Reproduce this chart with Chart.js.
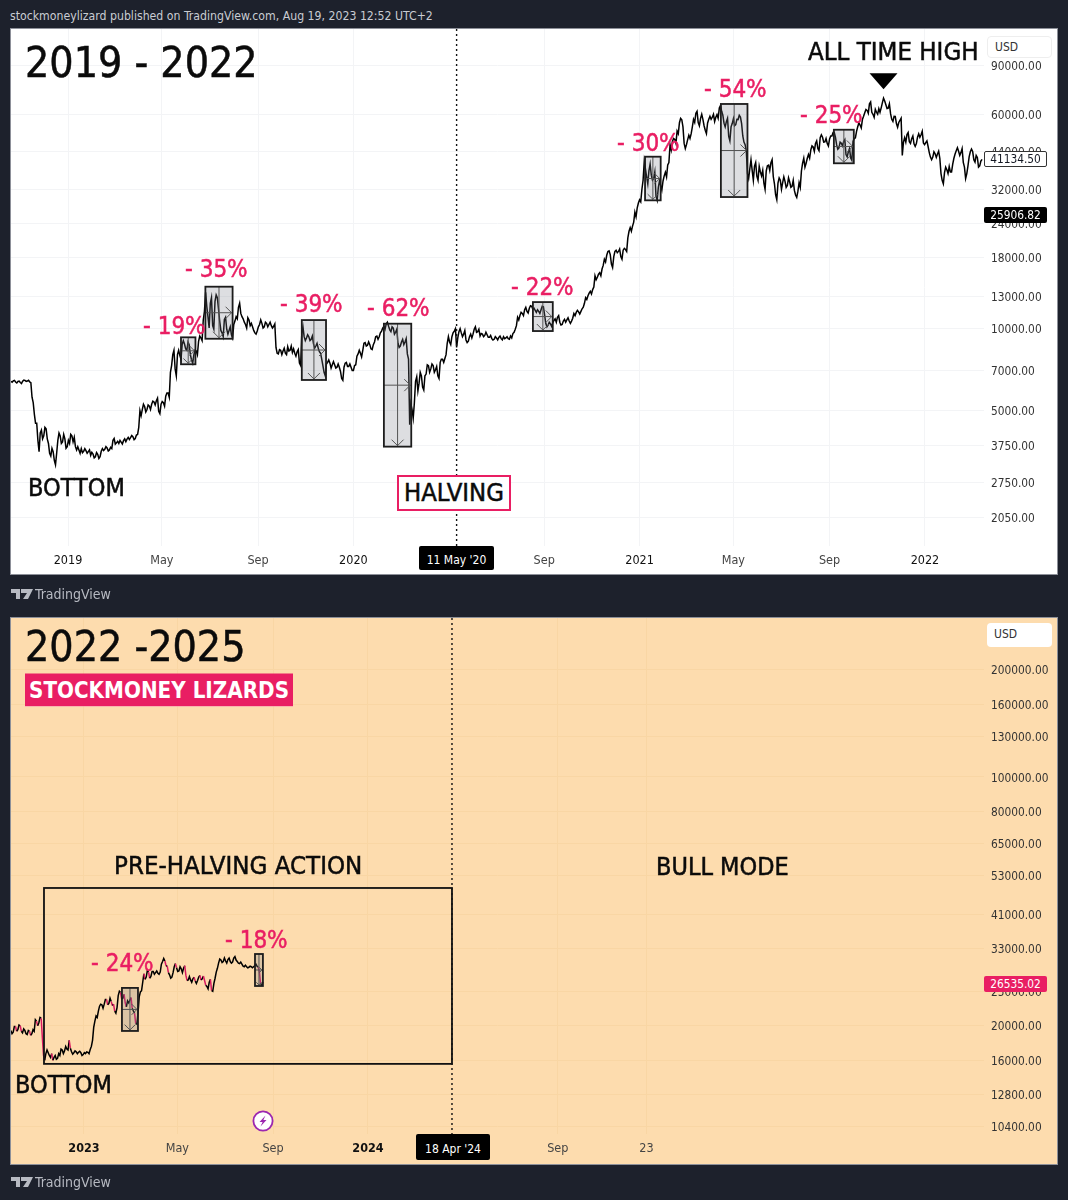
<!DOCTYPE html>
<html><head><meta charset="utf-8">
<script src="https://cdn.jsdelivr.net/npm/chart.js@4"></script>
<style>
html,body{margin:0;padding:0;background:#1d212c;width:1068px;height:1200px;overflow:hidden;font-family:"DejaVu Sans Condensed","DejaVu Sans",sans-serif}
.pane{position:absolute;left:11px;width:1046px;box-shadow:0 0 0 1px #8d9099}
.pane canvas{display:block}
.t{position:absolute;white-space:nowrap;line-height:1;transform:translateY(-50%)}
.k{color:#0b0b0b;-webkit-text-stroke:.5px #0b0b0b}
.p{color:#e91e63;-webkit-text-stroke:.5px #e91e63;font-size:24px}
.tag{position:absolute;font-size:11.8px;text-align:center;line-height:16px;height:16px;width:63px;left:984px;border-radius:2px}
.usd{position:absolute;left:987px;width:65px;background:#fff;border-radius:4px;font-size:12px;color:#333;box-sizing:border-box;padding-left:7px}
.tv{position:absolute;left:35px;color:#b7bac2;font-size:14px;transform:translateY(-50%);line-height:1}
</style></head>
<body>
<div class="t" style="left:10px;top:16px;font-size:12.2px;color:#c9ccd3">stockmoneylizard published on TradingView.com, Aug 19, 2023 12:52 UTC+2</div>
<div class="pane" style="top:29px;height:545px;background:#fff"><canvas id="upper" width="1046" height="545" style="width:1046px;height:545px"></canvas></div>
<div class="pane" style="top:618px;height:546px;background:#fddcae"><canvas id="lower" width="1046" height="546" style="width:1046px;height:546px"></canvas></div>

<div class="t k" style="left:25px;top:63px;font-size:42.5px">2019 - 2022</div>
<div class="t k" style="left:808px;top:52px;font-size:25.6px">ALL TIME HIGH</div>
<div class="t k" style="left:28px;top:487px;font-size:25px">BOTTOM</div>
<div style="position:absolute;left:397px;top:475px;width:110px;height:32px;border:2px solid #e91e63;background:#fff"></div>
<div class="t k" style="left:404px;top:493px;font-size:25.4px">HALVING</div>
<div class="t p" style="left:143px;top:326px">- 19%</div>
<div class="t p" style="left:185px;top:269px">- 35%</div>
<div class="t p" style="left:280px;top:304px">- 39%</div>
<div class="t p" style="left:367px;top:308px">- 62%</div>
<div class="t p" style="left:511px;top:287px">- 22%</div>
<div class="t p" style="left:617px;top:143px">- 30%</div>
<div class="t p" style="left:704px;top:89px">- 54%</div>
<div class="t p" style="left:800px;top:115px">- 25%</div>
<div class="usd" style="top:36px;height:22px;line-height:20px;border:1px solid #eee">USD</div>
<div class="tag" style="top:151px;background:#fff;color:#131722;border:1px solid #333;box-sizing:border-box;line-height:14px">41134.50</div>
<div class="tag" style="top:207px;background:#000;color:#fff">25906.82</div>
<div class="tag" style="left:419px;top:546px;width:75px;height:24px;line-height:28px;background:#000;color:#fff;font-size:12px">11 May '20</div>

<div class="t k" style="left:25px;top:647px;font-size:42.5px">2022 -2025</div>
<div class="t" style="left:25px;top:690px;width:264px;padding:7px 0 7px 4px;height:19px;line-height:19px;transform:translateY(-50%);background:#e91e63;color:#fff;font-size:22.2px;font-weight:bold">STOCKMONEY LIZARDS</div>
<div class="t k" style="left:114px;top:866px;font-size:25.6px">PRE-HALVING ACTION</div>
<div class="t k" style="left:656px;top:866px;font-size:25px">BULL MODE</div>
<div class="t k" style="left:15px;top:1084px;font-size:25px">BOTTOM</div>
<div class="t p" style="left:91px;top:963px">- 24%</div>
<div class="t p" style="left:225px;top:940px">- 18%</div>
<div class="usd" style="top:623px;height:24px;line-height:23px">USD</div>
<div class="tag" style="top:976px;background:#e91e63;color:#fff">26535.02</div>
<div class="tag" style="left:416px;top:1134px;width:74px;height:26px;line-height:30px;background:#000;color:#fff;font-size:12px">18 Apr '24</div>
<svg style="position:absolute;left:252px;top:1110px" width="22" height="22" viewBox="0 0 22 22"><circle cx="11" cy="11" r="9.6" fill="#fff" stroke="#9c27b0" stroke-width="1.8"/><path d="M13.5 5.5 L7.5 12 L10.6 12 L8.5 16.5 L14.5 10 L11.4 10 Z" fill="#9c27b0"/></svg>

<svg style="position:absolute;left:11px;top:588px" width="22" height="12" viewBox="0 0 22 12"><path d="M0 1H9V11H5V5H0Z M10 1H22L17 11H12L16 5H10Z" fill="#b7bac2"/></svg>
<div class="tv" style="top:594px">TradingView</div>
<svg style="position:absolute;left:11px;top:1176px" width="22" height="12" viewBox="0 0 22 12"><path d="M0 1H9V11H5V5H0Z M10 1H22L17 11H12L16 5H10Z" fill="#b7bac2"/></svg>
<div class="tv" style="top:1182px">TradingView</div>

<script>
// ---------- upper chart: BTC/USD closes every 3 days from day -73 (day 0 = 1 Jan 2019) ----------
const upperStartDay = -73, stepDays = 3;
const upper2018 = [
6400,6420,6360,6390,6330,6400,6440,6410,6370,5600,
4850,4500,3550,4250,4050,4300,3800,3420,3550,3180,
3900,4050,3850,3950,3700,3800,4050,4000,3600,3600];
const upper2019 = [
3640,3560,3580,3550,3440,3480,3400,3470,3400,3640,
3620,3660,3600,3640,3960,3820,3800,3840,3890,3860,
4000,3990,4020,3960,4100,5000,5050,5180,5050,5200,
5280,5380,5430,4980,5280,5350,5650,5800,6900,8000,
7100,8000,7950,8700,8750,8300,8700,7650,8000,8250,
8950,9200,10700,13500,11000,12300,10200,12500,12900,10600,
9600,10750,9900,9800,9450,10300,11000,11900,11300,10800,
10300,10900,10200,10100,9600,9750,10300,10400,10100,10400,
10300,10200,10150,8500,8050,8300,8250,8100,8550,8300,
8150,8100,8200,7450,9550,9300,9200,9300,9100,8750,
8600,8450,8100,7300,6700,7500,7450,7350,7350,7200,
7200,6550,7200,7500,7250,7200,7000,7350,8050,8100];
const upper2020 = [
8300,8850,8650,8700,8350,8900,9350,9300,9750,10150,
10350,10150,9700,10000,9650,8800,8600,9100,8900,8050,
4450,5050,5350,6650,6300,6700,5950,6800,7300,7100,
7300,7050,6700,7500,7700,7750,8800,8900,9300,9750,
8500,9700,9600,9500,9050,8950,9500,9500,10100,9700,
9350,9500,9400,9450,9250,9150,9100,9200,9250,9150,
9300,9200,9150,9350,9550,9900,10950,11100,11300,11650,
11500,11800,12000,11800,11400,11500,11650,11950,10400,10250,
10350,10450,10800,10950,10500,10300,10750,10700,10600,10600,
11300,11400,11450,11500,11900,12900,13100,13600,13800,15500,
15300,15900,16400,17800,18400,19100,17100,18200,19200,19000,
18200,19200,19300,21300,23200,23500,26400,27400,29300,32000];
const upper2021 = [
40500,35500,37400,36000,35000,30200,32500,33000,34300,36900,
39200,46500,47800,48600,52100,55900,57300,47000,46500,50300,
51000,57500,60500,56000,58000,57500,52500,55800,59000,58500,
56500,59800,63200,61500,55700,56400,49800,54000,57800,55000,
57400,58600,50000,46500,36500,38000,37500,38800,35700,38800,
35800,33700,37300,39200,40000,35600,30500,33700,34500,33800,
34200,33000,34000,32800,31700,29900,33800,37300,41500,39800,
42800,44500,45600,47000,45000,49300,49500,47600,47000,48800,
50000,51500,46500,45300,47100,47700,42800,43800,41600,47800,
49200,54000,54800,57400,60800,62000,65500,61000,58500,61000,
62900,63300,68700,65000,63200,60300,56500,58900,53800,57000,
42500,49300,50600,47700,48900,46800,46900,50900,50500,47200];
const upper2022 = [
47300,45800,41900,41900,43100,43000,41500,34500,36800,37700,
38700,37000,41500,44200,44000,43500,40100,35000,38900,43800,
43900,40200,41800,38900,41134];
// intrabar swing read between two closes
const upperSwing2018 = [
6350,6450,6310,6410,6280,6460,6390,6450,6330,5350,
4500,3900,4150,3950,4350,3950,3500,3650,3300,3500,
4150,3800,4100,3650,3900,4100,3850,3700,3700,3500];
const upperSwing2019 = [
3520,3640,3500,3600,3530,3370,3520,3350,3560,3580,
3700,3570,3680,3900,3780,3870,3900,3780,3950,3940,
3930,4060,3920,4080,4350,4800,5280,4950,5250,5050,
5420,5250,5550,4880,5400,5200,5800,5600,7300,8300,
6700,8300,7700,9000,8400,8900,8000,7450,8300,8000,
9350,9000,11500,12000,10000,12900,9900,13200,11700,9800,
9300,10950,9500,10100,9200,10600,10800,12300,11000,10500,
10000,10700,10400,9800,9500,10100,10700,10000,10500,10100,
10500,10000,10350,8100,8350,8000,8450,8000,8250,8600,
8400,7900,8350,7300,10100,9000,9450,9000,9350,8450,
8800,8200,7700,6900,7400,7650,7150,7550,7150,7400,
6950,6450,7450,7250,7400,7000,7300,7900,8300,7850];
const upperSwing2020 = [
8800,8600,8900,8400,8700,9300,9100,9600,10000,9900,
10500,9850,10100,9500,9900,8500,8900,8700,9150,7700,
5300,4700,6400,5900,6900,6100,6700,7350,6900,7400,
6900,7250,6550,7700,7500,8000,9300,8700,9600,9950,
9200,9950,9300,9800,8850,9300,9200,9900,9650,9900,
9550,9300,9650,9250,9400,9050,9300,9050,9350,9050,
9150,9300,9100,9200,9650,10200,10700,11400,11100,11900,
11350,12050,11700,11600,11650,11300,12000,11200,10100,10500,
10150,10650,10500,11100,10250,10600,10500,10900,10400,10850,
11100,11600,11250,11750,12300,12700,13400,13300,14100,15000,
15700,15500,16900,17400,19000,18500,16600,19000,18800,19400,
17800,19500,19000,22500,22500,24300,25400,28500,28800,34500];
const upperSwing2021 = [
38000,33500,39500,34500,37000,29200,34300,31800,35800,35500,
40000,44500,49000,47000,51000,58000,54000,45000,48500,49000,
54000,56000,61500,54500,60000,54500,51000,57500,57500,60000,
58500,58000,64500,59500,54000,58000,48000,55500,54500,57500,
59500,55500,47500,44000,35000,41000,34500,40000,34500,37000,
37500,32000,39000,37500,41000,33500,29300,35200,32000,35500,
32500,35200,32500,34500,30500,31500,32500,39800,38500,41500,
41500,46000,44000,48000,44200,50500,47500,49000,46000,50000,
51500,49500,44800,47500,46000,48500,42000,45000,40800,49000,
52000,55800,53500,59000,62500,60500,66500,60000,62500,60000,
61000,66000,67000,63000,65500,57500,59000,55500,56000,58000,
47500,47500,51500,47000,50000,45800,49500,49500,52000,46500];
const upperSwing2022 = [
48000,43500,41000,43800,41800,44000,36500,33500,38500,36500,
37000,39500,43000,45300,42500,45000,38500,36500,42000,44800,
41000,42500,38500,40500];

// ---------- lower chart: closes every 3 days from day -94 (day 0 = 1 Jan 2023) ----------
const lowerStartDay = -94;
const lower2022 = [
19400,19200,19900,19500,20000,19100,19400,18900,19300,19000,
19300,20600,20400,21000,16500,16700,16800,16300,16000,16500,
16200,16500,17100,17000,17200,18200,16900,16800,16900,16850,
16800,16600];
const lower2023 = [
16700,16850,17150,18200,20600,21100,22700,22900,
23000,23700,23100,23400,23000,21700,24300,24800,23900,23200,
23500,23600,22400,21700,20200,24100,25100,28000,27400,28300,
27500,28400,28200,28100,28300,30300,30400,29400,27800,27400,
29300,29100,28500,28900,29000,27700,26900,26900,27100,26700,
26800,27700,27100,26800,25800,26500,25100,26300,28300,30000,
30600,30300,30400,30700,30300,30200,31300,30300,29900,29800,
29300,29300,29200,29300,29300,29800,29200,26200,26535];
const lowerSwing2022 = [
19000,19900,19300,20100,19300,19600,19000,19400,18800,19500,
20800,20000,21100,18500,16000,17100,16500,16700,16300,16100,
16700,17200,16700,17500,17100,17300,16650,17000,16700,16950,
16500,16800];
const lowerSwing2023 = [
16900,16700,17500,19800,21300,22000,23000,22400,
23700,22900,23900,22800,22000,22500,25000,23800,24500,22600,
23200,24000,22000,20300,21800,24900,26500,27000,28600,27200,
28400,27900,28500,27900,29800,30900,29500,28200,27200,28200,
29900,28400,29300,28200,29500,26800,27500,26500,27400,26300,
27400,26900,27600,26000,25400,27000,25000,27200,29000,30800,
30100,31000,30000,31000,30000,31000,30600,30000,30200,29400,
29600,29100,29400,29100,29500,29400,28300,26000];

// ---------- axes ----------
const upperPriceTicks = [90000,60000,44000,32000,24000,18000,13000,10000,7000,5000,3750,2750,2050];
const lowerPriceTicks = [200000,160000,130000,100000,80000,65000,53000,41000,33000,25000,20000,16000,12800,10400];
const upperDateTicks = [0,120,243,365,609,731,851,974,1096];
const upperDateLabels = ["2019","May","Sep","2020","Sep","2021","May","Sep","2022"];
const lowerDateTicks = [0,120,243,365,609,723];
const lowerDateLabels = ["2023","May","Sep","2024","Sep","23"];

// ---------- drawn tools, in data units (days, price) ----------
const upperDropBoxes = [
 [144.5,163,9250,7380],[175.7,210.5,14140,9140],[299,330,10690,6470],[404,439,10370,3700],
 [594.6,620,12430,9750],[738,758,42040,29160],[835,869,65400,29980],[979.5,1005,52700,39780]];
const lowerDropBoxes = [[48.8,69.4,25550,19340],[219.8,230,31820,25870]];
const lowerRangeBox = [-51.4,473,48770,15630];
const upperHalvingDay = 497, lowerHalvingDay = 473;
const athMarker = [1043,74000];

const FONT = '"DejaVu Sans Condensed","DejaVu Sans",sans-serif';

const tools = {
  id:'tools',
  afterDatasetsDraw(chart,args,o){
    const {ctx,chartArea:a,scales:{x,y}} = chart;
    ctx.save();
    ctx.strokeStyle='#111';ctx.lineWidth=1.4;ctx.setLineDash([2,3]);
    ctx.beginPath();ctx.moveTo(x.getPixelForValue(o.halving),a.top);ctx.lineTo(x.getPixelForValue(o.halving),a.bottom);ctx.stroke();
    ctx.setLineDash([]);
    (o.boxes||[]).forEach(b=>{
      const l=x.getPixelForValue(b[0]),r=x.getPixelForValue(b[1]),t=y.getPixelForValue(b[2]),m=y.getPixelForValue(b[3]);
      const cx=(l+r)/2,cy=(t+m)/2,h=Math.min(6,(r-l)/3);
      ctx.fillStyle='rgba(120,123,134,.25)';ctx.fillRect(l,t,r-l,m-t);
      ctx.strokeStyle='#555';ctx.lineWidth=1;ctx.beginPath();
      ctx.moveTo(l,cy);ctx.lineTo(r-1,cy);ctx.moveTo(r-1-h,cy-h);ctx.lineTo(r-1,cy);ctx.lineTo(r-1-h,cy+h);
      ctx.moveTo(cx,t);ctx.lineTo(cx,m-1);ctx.moveTo(cx-h,m-1-h);ctx.lineTo(cx,m-1);ctx.lineTo(cx+h,m-1-h);
      ctx.stroke();
      ctx.strokeStyle='#1c1c1c';ctx.lineWidth=1.8;ctx.strokeRect(l,t,r-l,m-t);
    });
    if(o.range){const b=o.range;const l=x.getPixelForValue(b[0]),r=x.getPixelForValue(b[1]),t=y.getPixelForValue(b[2]),m=y.getPixelForValue(b[3]);
      ctx.strokeStyle='#111';ctx.lineWidth=1.8;ctx.strokeRect(l,t,r-l,m-t);}
    if(o.marker){const px=x.getPixelForValue(o.marker[0]),py=y.getPixelForValue(o.marker[1]);
      ctx.fillStyle='#000';ctx.beginPath();ctx.moveTo(px-14,py-16);ctx.lineTo(px+14,py-16);ctx.lineTo(px,py);ctx.closePath();ctx.fill();}
    ctx.restore();
  }
};
const noPad = s=>{s.paddingTop=0;s.paddingBottom=0;s.paddingLeft=0;s.paddingRight=0;};
const isYear = c=>!!(c.tick && /^\d{4}$/.test(c.tick.label));

function build(id,opt){
  const points = [];
  opt.values.forEach((v,i)=>{
    points.push({x:opt.start+i*stepDays,y:v});
    if(opt.swing[i]!==undefined) points.push({x:opt.start+(i+0.5)*stepDays,y:opt.swing[i]});
  });
  const dateLabel = new Map(opt.dateTicks.map((d,i)=>[d,opt.dateLabels[i]]));
  new Chart(document.getElementById(id),{
    type:'line',
    data:{datasets:[{data:points,borderColor:'#000',borderWidth:1.5,pointRadius:0,tension:0,borderJoinStyle:'miter',
      segment:opt.segment||{}}]},
    plugins:[tools],
    options:{
      responsive:false,animation:false,events:[],
      layout:{padding:0},
      plugins:{legend:{display:false},tooltip:{enabled:false},tools:opt.tools},
      scales:{
        x:{type:'linear',min:opt.xMin,max:opt.xMax,offset:false,
          afterBuildTicks:s=>{s.ticks=opt.dateTicks.map(v=>({value:v}));},
          afterFit:s=>{s.height=opt.axisH;noPad(s);},
          border:{display:false},
          grid:{color:opt.grid,drawTicks:false,lineWidth:1},
          ticks:{autoSkip:false,maxRotation:0,padding:opt.axisPad,
            color:c=>isYear(c)?'#111':'#444',
            font:c=>({family:FONT,size:12.5,weight:(opt.boldYears&&isYear(c))?'bold':'normal'}),
            callback:v=>dateLabel.get(v)}},
        y:{type:'logarithmic',position:'right',min:opt.yMin,max:opt.yMax,
          afterBuildTicks:s=>{s.ticks=opt.priceTicks.map(v=>({value:v}));},
          afterFit:s=>{s.width=73;noPad(s);},
          border:{display:false},
          grid:{color:opt.grid,drawTicks:false,lineWidth:1},
          ticks:{autoSkip:false,padding:7,labelOffset:1.5,color:'#333',font:{family:FONT,size:11.8},
            callback:v=>Number(v).toFixed(2)}}
      }
    }
  });
}

build('upper',{
  values:[...upper2018,...upper2019,...upper2020,...upper2021,...upper2022],
  swing:[...upperSwing2018,...upperSwing2019,...upperSwing2020,...upperSwing2021,...upperSwing2022],
  start:upperStartDay,xMin:-72.9,xMax:1171.5,yMin:1609,yMax:122600,axisH:28,axisPad:7,grid:'#f3f4f6',
  priceTicks:upperPriceTicks,dateTicks:upperDateTicks,dateLabels:upperDateLabels,
  tools:{halving:upperHalvingDay,boxes:upperDropBoxes,marker:athMarker}
});
build('lower',{
  values:[...lower2022,...lower2023],
  swing:[...lowerSwing2022,...lowerSwing2023],
  start:lowerStartDay,xMin:-93.8,xMax:1156.8,yMin:9930,yMax:279700,axisH:30,axisPad:7,grid:'#f9d6a4',boldYears:true,
  priceTicks:lowerPriceTicks,dateTicks:lowerDateTicks,dateLabels:lowerDateLabels,
  segment:{borderColor:c=>c.p1.parsed.y<c.p0.parsed.y*0.975?'#d81b60':'#000'},
  tools:{halving:lowerHalvingDay,boxes:lowerDropBoxes,range:lowerRangeBox}
});
</script>
</body></html>
